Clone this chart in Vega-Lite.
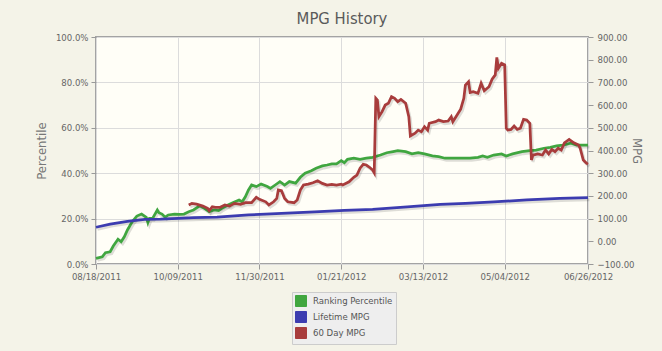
{
  "$schema": "https://vega.github.io/schema/vega-lite/v6.json",
  "width": 492,
  "height": 227,
  "autosize": {"type": "none"},
  "padding": {"left": 96, "top": 37, "right": 74, "bottom": 87},
  "background": "#f4f3e8",
  "title": {"text": "MPG History", "font": "DejaVu Sans Condensed", "fontSize": 16.5, "fontWeight": "normal", "color": "#5a5a5a", "offset": 5, "anchor": "middle"},
  "config": {
    "view": {"fill": "#fffef7", "stroke": "#a3a3a3", "strokeWidth": 2},
    "axis": {
      "labelFont": "DejaVu Sans Condensed",
      "labelFontSize": 9.5,
      "labelColor": "#666666",
      "tickColor": "#999999",
      "tickSize": 5,
      "domain": false,
      "gridColor": "#dcdcdc",
      "gridWidth": 1,
      "labelFlush": false,
      "labelOverlap": false,
      "titleFont": "DejaVu Sans Condensed",
      "titleFontSize": 13,
      "titleFontWeight": "normal",
      "titleColor": "#777777"
    }
  },
  "datasets": {
    "pct": [
      {"date": "2011-08-18", "series": "Ranking Percentile", "value": 2.5},
      {"date": "2011-08-22", "series": "Ranking Percentile", "value": 3.2},
      {"date": "2011-08-24", "series": "Ranking Percentile", "value": 5.0},
      {"date": "2011-08-27", "series": "Ranking Percentile", "value": 5.4},
      {"date": "2011-08-29", "series": "Ranking Percentile", "value": 7.9},
      {"date": "2011-09-01", "series": "Ranking Percentile", "value": 10.9},
      {"date": "2011-09-03", "series": "Ranking Percentile", "value": 9.8},
      {"date": "2011-09-05", "series": "Ranking Percentile", "value": 12.0},
      {"date": "2011-09-07", "series": "Ranking Percentile", "value": 15.0},
      {"date": "2011-09-10", "series": "Ranking Percentile", "value": 18.6},
      {"date": "2011-09-13", "series": "Ranking Percentile", "value": 21.1},
      {"date": "2011-09-16", "series": "Ranking Percentile", "value": 22.0},
      {"date": "2011-09-19", "series": "Ranking Percentile", "value": 20.6},
      {"date": "2011-09-20", "series": "Ranking Percentile", "value": 18.2},
      {"date": "2011-09-21", "series": "Ranking Percentile", "value": 20.1},
      {"date": "2011-09-23", "series": "Ranking Percentile", "value": 20.1},
      {"date": "2011-09-26", "series": "Ranking Percentile", "value": 23.8},
      {"date": "2011-09-27", "series": "Ranking Percentile", "value": 22.6},
      {"date": "2011-09-29", "series": "Ranking Percentile", "value": 22.0},
      {"date": "2011-10-01", "series": "Ranking Percentile", "value": 20.6},
      {"date": "2011-10-03", "series": "Ranking Percentile", "value": 21.6},
      {"date": "2011-10-07", "series": "Ranking Percentile", "value": 22.0},
      {"date": "2011-10-10", "series": "Ranking Percentile", "value": 21.9},
      {"date": "2011-10-13", "series": "Ranking Percentile", "value": 22.0},
      {"date": "2011-10-16", "series": "Ranking Percentile", "value": 23.0},
      {"date": "2011-10-19", "series": "Ranking Percentile", "value": 23.8},
      {"date": "2011-10-23", "series": "Ranking Percentile", "value": 25.6},
      {"date": "2011-10-26", "series": "Ranking Percentile", "value": 24.5},
      {"date": "2011-10-29", "series": "Ranking Percentile", "value": 23.0},
      {"date": "2011-11-01", "series": "Ranking Percentile", "value": 23.8},
      {"date": "2011-11-04", "series": "Ranking Percentile", "value": 23.5},
      {"date": "2011-11-06", "series": "Ranking Percentile", "value": 24.5},
      {"date": "2011-11-10", "series": "Ranking Percentile", "value": 26.0},
      {"date": "2011-11-13", "series": "Ranking Percentile", "value": 27.0},
      {"date": "2011-11-17", "series": "Ranking Percentile", "value": 28.2},
      {"date": "2011-11-19", "series": "Ranking Percentile", "value": 27.4},
      {"date": "2011-11-21", "series": "Ranking Percentile", "value": 29.6},
      {"date": "2011-11-23", "series": "Ranking Percentile", "value": 32.6},
      {"date": "2011-11-25", "series": "Ranking Percentile", "value": 34.8},
      {"date": "2011-11-28", "series": "Ranking Percentile", "value": 34.1},
      {"date": "2011-12-01", "series": "Ranking Percentile", "value": 35.2},
      {"date": "2011-12-05", "series": "Ranking Percentile", "value": 34.1},
      {"date": "2011-12-07", "series": "Ranking Percentile", "value": 33.3},
      {"date": "2011-12-10", "series": "Ranking Percentile", "value": 34.8},
      {"date": "2011-12-13", "series": "Ranking Percentile", "value": 36.3},
      {"date": "2011-12-16", "series": "Ranking Percentile", "value": 34.8},
      {"date": "2011-12-19", "series": "Ranking Percentile", "value": 36.3},
      {"date": "2011-12-23", "series": "Ranking Percentile", "value": 35.6},
      {"date": "2011-12-26", "series": "Ranking Percentile", "value": 38.2},
      {"date": "2011-12-29", "series": "Ranking Percentile", "value": 40.0},
      {"date": "2012-01-02", "series": "Ranking Percentile", "value": 41.1},
      {"date": "2012-01-05", "series": "Ranking Percentile", "value": 42.2},
      {"date": "2012-01-09", "series": "Ranking Percentile", "value": 43.2},
      {"date": "2012-01-12", "series": "Ranking Percentile", "value": 43.6},
      {"date": "2012-01-15", "series": "Ranking Percentile", "value": 44.1},
      {"date": "2012-01-18", "series": "Ranking Percentile", "value": 44.1},
      {"date": "2012-01-21", "series": "Ranking Percentile", "value": 45.5},
      {"date": "2012-01-23", "series": "Ranking Percentile", "value": 44.6},
      {"date": "2012-01-25", "series": "Ranking Percentile", "value": 46.1},
      {"date": "2012-01-29", "series": "Ranking Percentile", "value": 46.6},
      {"date": "2012-02-02", "series": "Ranking Percentile", "value": 46.1},
      {"date": "2012-02-06", "series": "Ranking Percentile", "value": 46.6},
      {"date": "2012-02-10", "series": "Ranking Percentile", "value": 47.0},
      {"date": "2012-02-15", "series": "Ranking Percentile", "value": 48.0},
      {"date": "2012-02-19", "series": "Ranking Percentile", "value": 49.0},
      {"date": "2012-02-23", "series": "Ranking Percentile", "value": 49.5},
      {"date": "2012-02-26", "series": "Ranking Percentile", "value": 49.9},
      {"date": "2012-03-02", "series": "Ranking Percentile", "value": 49.5},
      {"date": "2012-03-06", "series": "Ranking Percentile", "value": 48.5},
      {"date": "2012-03-10", "series": "Ranking Percentile", "value": 49.0},
      {"date": "2012-03-14", "series": "Ranking Percentile", "value": 48.5},
      {"date": "2012-03-19", "series": "Ranking Percentile", "value": 47.6},
      {"date": "2012-03-23", "series": "Ranking Percentile", "value": 47.3},
      {"date": "2012-03-27", "series": "Ranking Percentile", "value": 46.6},
      {"date": "2012-03-31", "series": "Ranking Percentile", "value": 46.6},
      {"date": "2012-04-05", "series": "Ranking Percentile", "value": 46.6},
      {"date": "2012-04-09", "series": "Ranking Percentile", "value": 46.6},
      {"date": "2012-04-12", "series": "Ranking Percentile", "value": 46.6},
      {"date": "2012-04-17", "series": "Ranking Percentile", "value": 47.0},
      {"date": "2012-04-20", "series": "Ranking Percentile", "value": 47.6},
      {"date": "2012-04-23", "series": "Ranking Percentile", "value": 47.0},
      {"date": "2012-04-27", "series": "Ranking Percentile", "value": 48.0},
      {"date": "2012-05-02", "series": "Ranking Percentile", "value": 48.5},
      {"date": "2012-05-05", "series": "Ranking Percentile", "value": 47.6},
      {"date": "2012-05-09", "series": "Ranking Percentile", "value": 48.5},
      {"date": "2012-05-15", "series": "Ranking Percentile", "value": 49.5},
      {"date": "2012-05-20", "series": "Ranking Percentile", "value": 49.9},
      {"date": "2012-05-24", "series": "Ranking Percentile", "value": 50.2},
      {"date": "2012-05-29", "series": "Ranking Percentile", "value": 51.0},
      {"date": "2012-06-02", "series": "Ranking Percentile", "value": 51.4},
      {"date": "2012-06-06", "series": "Ranking Percentile", "value": 52.0},
      {"date": "2012-06-10", "series": "Ranking Percentile", "value": 52.4},
      {"date": "2012-06-15", "series": "Ranking Percentile", "value": 53.2},
      {"date": "2012-06-19", "series": "Ranking Percentile", "value": 52.4},
      {"date": "2012-06-22", "series": "Ranking Percentile", "value": 52.4},
      {"date": "2012-06-26", "series": "Ranking Percentile", "value": 52.4}
    ],
    "mpg": [
      {"date": "2011-08-18", "series": "Lifetime MPG", "value": 62},
      {"date": "2011-08-27", "series": "Lifetime MPG", "value": 76},
      {"date": "2011-09-07", "series": "Lifetime MPG", "value": 88},
      {"date": "2011-09-18", "series": "Lifetime MPG", "value": 97},
      {"date": "2011-09-28", "series": "Lifetime MPG", "value": 98},
      {"date": "2011-10-09", "series": "Lifetime MPG", "value": 101},
      {"date": "2011-10-19", "series": "Lifetime MPG", "value": 104},
      {"date": "2011-11-03", "series": "Lifetime MPG", "value": 107},
      {"date": "2011-11-23", "series": "Lifetime MPG", "value": 116},
      {"date": "2011-12-14", "series": "Lifetime MPG", "value": 123},
      {"date": "2012-01-04", "series": "Lifetime MPG", "value": 130},
      {"date": "2012-01-23", "series": "Lifetime MPG", "value": 136},
      {"date": "2012-02-10", "series": "Lifetime MPG", "value": 141},
      {"date": "2012-03-03", "series": "Lifetime MPG", "value": 152},
      {"date": "2012-03-24", "series": "Lifetime MPG", "value": 163},
      {"date": "2012-04-09", "series": "Lifetime MPG", "value": 167},
      {"date": "2012-04-27", "series": "Lifetime MPG", "value": 174},
      {"date": "2012-05-18", "series": "Lifetime MPG", "value": 182},
      {"date": "2012-06-08", "series": "Lifetime MPG", "value": 189},
      {"date": "2012-06-26", "series": "Lifetime MPG", "value": 192},
      {"date": "2011-10-16", "series": "60 Day MPG", "value": 160},
      {"date": "2011-10-18", "series": "60 Day MPG", "value": 167},
      {"date": "2011-10-21", "series": "60 Day MPG", "value": 164},
      {"date": "2011-10-25", "series": "60 Day MPG", "value": 155},
      {"date": "2011-10-28", "series": "60 Day MPG", "value": 145},
      {"date": "2011-10-29", "series": "60 Day MPG", "value": 135},
      {"date": "2011-10-31", "series": "60 Day MPG", "value": 152},
      {"date": "2011-11-02", "series": "60 Day MPG", "value": 150},
      {"date": "2011-11-05", "series": "60 Day MPG", "value": 150},
      {"date": "2011-11-08", "series": "60 Day MPG", "value": 160},
      {"date": "2011-11-11", "series": "60 Day MPG", "value": 155},
      {"date": "2011-11-14", "series": "60 Day MPG", "value": 167},
      {"date": "2011-11-18", "series": "60 Day MPG", "value": 163},
      {"date": "2011-11-21", "series": "60 Day MPG", "value": 170},
      {"date": "2011-11-25", "series": "60 Day MPG", "value": 170},
      {"date": "2011-11-28", "series": "60 Day MPG", "value": 194},
      {"date": "2011-11-30", "series": "60 Day MPG", "value": 185},
      {"date": "2011-12-04", "series": "60 Day MPG", "value": 174},
      {"date": "2011-12-06", "series": "60 Day MPG", "value": 160},
      {"date": "2011-12-09", "series": "60 Day MPG", "value": 174},
      {"date": "2011-12-11", "series": "60 Day MPG", "value": 189},
      {"date": "2011-12-12", "series": "60 Day MPG", "value": 226},
      {"date": "2011-12-14", "series": "60 Day MPG", "value": 223},
      {"date": "2011-12-16", "series": "60 Day MPG", "value": 189},
      {"date": "2011-12-18", "series": "60 Day MPG", "value": 174},
      {"date": "2011-12-22", "series": "60 Day MPG", "value": 170},
      {"date": "2011-12-24", "series": "60 Day MPG", "value": 182},
      {"date": "2011-12-26", "series": "60 Day MPG", "value": 226},
      {"date": "2011-12-28", "series": "60 Day MPG", "value": 248},
      {"date": "2011-12-31", "series": "60 Day MPG", "value": 252},
      {"date": "2012-01-03", "series": "60 Day MPG", "value": 258},
      {"date": "2012-01-06", "series": "60 Day MPG", "value": 267},
      {"date": "2012-01-09", "series": "60 Day MPG", "value": 255},
      {"date": "2012-01-12", "series": "60 Day MPG", "value": 248},
      {"date": "2012-01-15", "series": "60 Day MPG", "value": 251},
      {"date": "2012-01-18", "series": "60 Day MPG", "value": 248},
      {"date": "2012-01-21", "series": "60 Day MPG", "value": 252},
      {"date": "2012-01-22", "series": "60 Day MPG", "value": 248},
      {"date": "2012-01-26", "series": "60 Day MPG", "value": 262},
      {"date": "2012-01-29", "series": "60 Day MPG", "value": 282},
      {"date": "2012-01-31", "series": "60 Day MPG", "value": 292},
      {"date": "2012-02-02", "series": "60 Day MPG", "value": 322},
      {"date": "2012-02-04", "series": "60 Day MPG", "value": 339},
      {"date": "2012-02-06", "series": "60 Day MPG", "value": 336},
      {"date": "2012-02-08", "series": "60 Day MPG", "value": 326},
      {"date": "2012-02-10", "series": "60 Day MPG", "value": 314},
      {"date": "2012-02-11", "series": "60 Day MPG", "value": 302},
      {"date": "2012-02-12", "series": "60 Day MPG", "value": 630},
      {"date": "2012-02-13", "series": "60 Day MPG", "value": 622},
      {"date": "2012-02-14", "series": "60 Day MPG", "value": 549},
      {"date": "2012-02-16", "series": "60 Day MPG", "value": 571},
      {"date": "2012-02-18", "series": "60 Day MPG", "value": 600},
      {"date": "2012-02-20", "series": "60 Day MPG", "value": 608},
      {"date": "2012-02-22", "series": "60 Day MPG", "value": 637},
      {"date": "2012-02-24", "series": "60 Day MPG", "value": 630},
      {"date": "2012-02-26", "series": "60 Day MPG", "value": 615},
      {"date": "2012-02-28", "series": "60 Day MPG", "value": 625},
      {"date": "2012-03-02", "series": "60 Day MPG", "value": 608},
      {"date": "2012-03-04", "series": "60 Day MPG", "value": 549},
      {"date": "2012-03-05", "series": "60 Day MPG", "value": 464},
      {"date": "2012-03-08", "series": "60 Day MPG", "value": 476},
      {"date": "2012-03-10", "series": "60 Day MPG", "value": 490},
      {"date": "2012-03-12", "series": "60 Day MPG", "value": 483},
      {"date": "2012-03-14", "series": "60 Day MPG", "value": 505},
      {"date": "2012-03-16", "series": "60 Day MPG", "value": 490},
      {"date": "2012-03-17", "series": "60 Day MPG", "value": 520},
      {"date": "2012-03-21", "series": "60 Day MPG", "value": 527},
      {"date": "2012-03-23", "series": "60 Day MPG", "value": 534},
      {"date": "2012-03-26", "series": "60 Day MPG", "value": 527},
      {"date": "2012-03-29", "series": "60 Day MPG", "value": 530},
      {"date": "2012-03-31", "series": "60 Day MPG", "value": 549},
      {"date": "2012-04-01", "series": "60 Day MPG", "value": 527},
      {"date": "2012-04-03", "series": "60 Day MPG", "value": 549},
      {"date": "2012-04-06", "series": "60 Day MPG", "value": 582},
      {"date": "2012-04-08", "series": "60 Day MPG", "value": 630},
      {"date": "2012-04-09", "series": "60 Day MPG", "value": 688},
      {"date": "2012-04-11", "series": "60 Day MPG", "value": 703},
      {"date": "2012-04-12", "series": "60 Day MPG", "value": 655},
      {"date": "2012-04-14", "series": "60 Day MPG", "value": 659},
      {"date": "2012-04-17", "series": "60 Day MPG", "value": 652},
      {"date": "2012-04-19", "series": "60 Day MPG", "value": 696},
      {"date": "2012-04-21", "series": "60 Day MPG", "value": 663},
      {"date": "2012-04-24", "series": "60 Day MPG", "value": 681},
      {"date": "2012-04-26", "series": "60 Day MPG", "value": 714},
      {"date": "2012-04-28", "series": "60 Day MPG", "value": 733},
      {"date": "2012-04-29", "series": "60 Day MPG", "value": 810},
      {"date": "2012-04-30", "series": "60 Day MPG", "value": 762},
      {"date": "2012-05-02", "series": "60 Day MPG", "value": 784},
      {"date": "2012-05-04", "series": "60 Day MPG", "value": 777},
      {"date": "2012-05-05", "series": "60 Day MPG", "value": 498},
      {"date": "2012-05-06", "series": "60 Day MPG", "value": 490},
      {"date": "2012-05-08", "series": "60 Day MPG", "value": 493},
      {"date": "2012-05-10", "series": "60 Day MPG", "value": 508},
      {"date": "2012-05-12", "series": "60 Day MPG", "value": 493},
      {"date": "2012-05-14", "series": "60 Day MPG", "value": 498},
      {"date": "2012-05-16", "series": "60 Day MPG", "value": 537},
      {"date": "2012-05-18", "series": "60 Day MPG", "value": 534},
      {"date": "2012-05-20", "series": "60 Day MPG", "value": 520},
      {"date": "2012-05-21", "series": "60 Day MPG", "value": 358},
      {"date": "2012-05-22", "series": "60 Day MPG", "value": 380},
      {"date": "2012-05-25", "series": "60 Day MPG", "value": 385},
      {"date": "2012-05-28", "series": "60 Day MPG", "value": 380},
      {"date": "2012-05-30", "series": "60 Day MPG", "value": 402},
      {"date": "2012-06-01", "series": "60 Day MPG", "value": 385},
      {"date": "2012-06-03", "series": "60 Day MPG", "value": 405},
      {"date": "2012-06-05", "series": "60 Day MPG", "value": 395},
      {"date": "2012-06-07", "series": "60 Day MPG", "value": 410},
      {"date": "2012-06-09", "series": "60 Day MPG", "value": 402},
      {"date": "2012-06-11", "series": "60 Day MPG", "value": 434},
      {"date": "2012-06-14", "series": "60 Day MPG", "value": 449},
      {"date": "2012-06-17", "series": "60 Day MPG", "value": 434},
      {"date": "2012-06-20", "series": "60 Day MPG", "value": 424},
      {"date": "2012-06-21", "series": "60 Day MPG", "value": 410},
      {"date": "2012-06-23", "series": "60 Day MPG", "value": 358},
      {"date": "2012-06-25", "series": "60 Day MPG", "value": 344},
      {"date": "2012-06-26", "series": "60 Day MPG", "value": 340}
    ]
  },
  "encoding": {
    "x": {
      "field": "date",
      "type": "temporal",
      "scale": {
        "type": "utc",
        "nice": false,
        "domain": [
          {"year": 2011, "month": 8, "date": 18, "utc": true},
          {"year": 2012, "month": 6, "date": 26, "utc": true}
        ]
      },
      "axis": {
        "title": null,
        "grid": true,
        "format": "%m/%d/%Y",
        "labelPadding": 2,
        "values": [
          {"year": 2011, "month": 8, "date": 18, "utc": true},
          {"year": 2011, "month": 10, "date": 9, "utc": true},
          {"year": 2011, "month": 11, "date": 30, "utc": true},
          {"year": 2012, "month": 1, "date": 21, "utc": true},
          {"year": 2012, "month": 3, "date": 13, "utc": true},
          {"year": 2012, "month": 5, "date": 4, "utc": true},
          {"year": 2012, "month": 6, "date": 26, "utc": true}
        ]
      }
    }
  },
  "layer": [
    {
      "data": {"name": "pct"},
      "encoding": {
        "y": {
          "field": "value",
          "type": "quantitative",
          "scale": {"domain": [0, 100], "nice": false, "zero": false},
          "axis": {
            "orient": "left",
            "title": "Percentile",
            "values": [0, 20, 40, 60, 80, 100],
            "labelExpr": "format(datum.value, '.1f') + '%'",
            "grid": true,
            "labelPadding": 3,
            "titlePadding": 7
          }
        }
      },
      "layer": [
        {
          "mark": {"type": "line", "strokeWidth": 3, "color": "#000000", "opacity": 0.13, "xOffset": 1.5, "yOffset": 2}
        },
        {
          "mark": {"type": "line", "strokeWidth": 2.75},
          "encoding": {
            "color": {
              "field": "series",
              "type": "nominal",
              "scale": {
                "domain": ["Ranking Percentile", "Lifetime MPG", "60 Day MPG"],
                "range": ["#40a640", "#3c3cb0", "#a83c3c"]
              },
              "legend": {
                "orient": "none",
                "legendX": 196,
                "legendY": 255,
                "title": null,
                "symbolType": "square",
                "symbolSize": 121,
                "labelFont": "DejaVu Sans Condensed",
                "labelFontSize": 9.5,
                "labelColor": "#555555",
                "fillColor": "#eeeeee",
                "strokeColor": "#cccccc",
                "padding": 3,
                "rowPadding": 0,
                "labelOffset": 6,
                "encode": {
                  "symbols": {
                    "update": {
                      "fill": {"scale": "color", "field": "value"},
                      "stroke": {"value": "#dddddd"},
                      "strokeWidth": {"value": 1},
                      "opacity": {"value": 1}
                    }
                  }
                }
              }
            }
          }
        }
      ]
    },
    {
      "data": {"name": "mpg"},
      "encoding": {
        "y": {
          "field": "value",
          "type": "quantitative",
          "scale": {"domain": [-100, 900], "nice": false, "zero": false},
          "axis": {
            "orient": "right",
            "title": "MPG",
            "values": [-100, 0, 100, 200, 300, 400, 500, 600, 700, 800, 900],
            "format": ".2f",
            "grid": false,
            "labelPadding": 4,
            "titlePadding": -5
          }
        }
      },
      "layer": [
        {
          "mark": {"type": "line", "strokeWidth": 3, "color": "#000000", "opacity": 0.13, "xOffset": 1.5, "yOffset": 2},
          "encoding": {"detail": {"field": "series", "type": "nominal"}}
        },
        {
          "mark": {"type": "line", "strokeWidth": 2.75},
          "encoding": {
            "color": {
              "field": "series",
              "type": "nominal",
              "scale": {
                "domain": ["Ranking Percentile", "Lifetime MPG", "60 Day MPG"],
                "range": ["#40a640", "#3c3cb0", "#a83c3c"]
              },
              "legend": {
                "orient": "none",
                "legendX": 196,
                "legendY": 255,
                "title": null,
                "symbolType": "square",
                "symbolSize": 121,
                "labelFont": "DejaVu Sans Condensed",
                "labelFontSize": 9.5,
                "labelColor": "#555555",
                "fillColor": "#eeeeee",
                "strokeColor": "#cccccc",
                "padding": 3,
                "rowPadding": 0,
                "labelOffset": 6,
                "encode": {
                  "symbols": {
                    "update": {
                      "fill": {"scale": "color", "field": "value"},
                      "stroke": {"value": "#dddddd"},
                      "strokeWidth": {"value": 1},
                      "opacity": {"value": 1}
                    }
                  }
                }
              }
            }
          }
        }
      ]
    }
  ],
  "resolve": {"scale": {"y": "independent"}, "axis": {"y": "independent"}}
}
